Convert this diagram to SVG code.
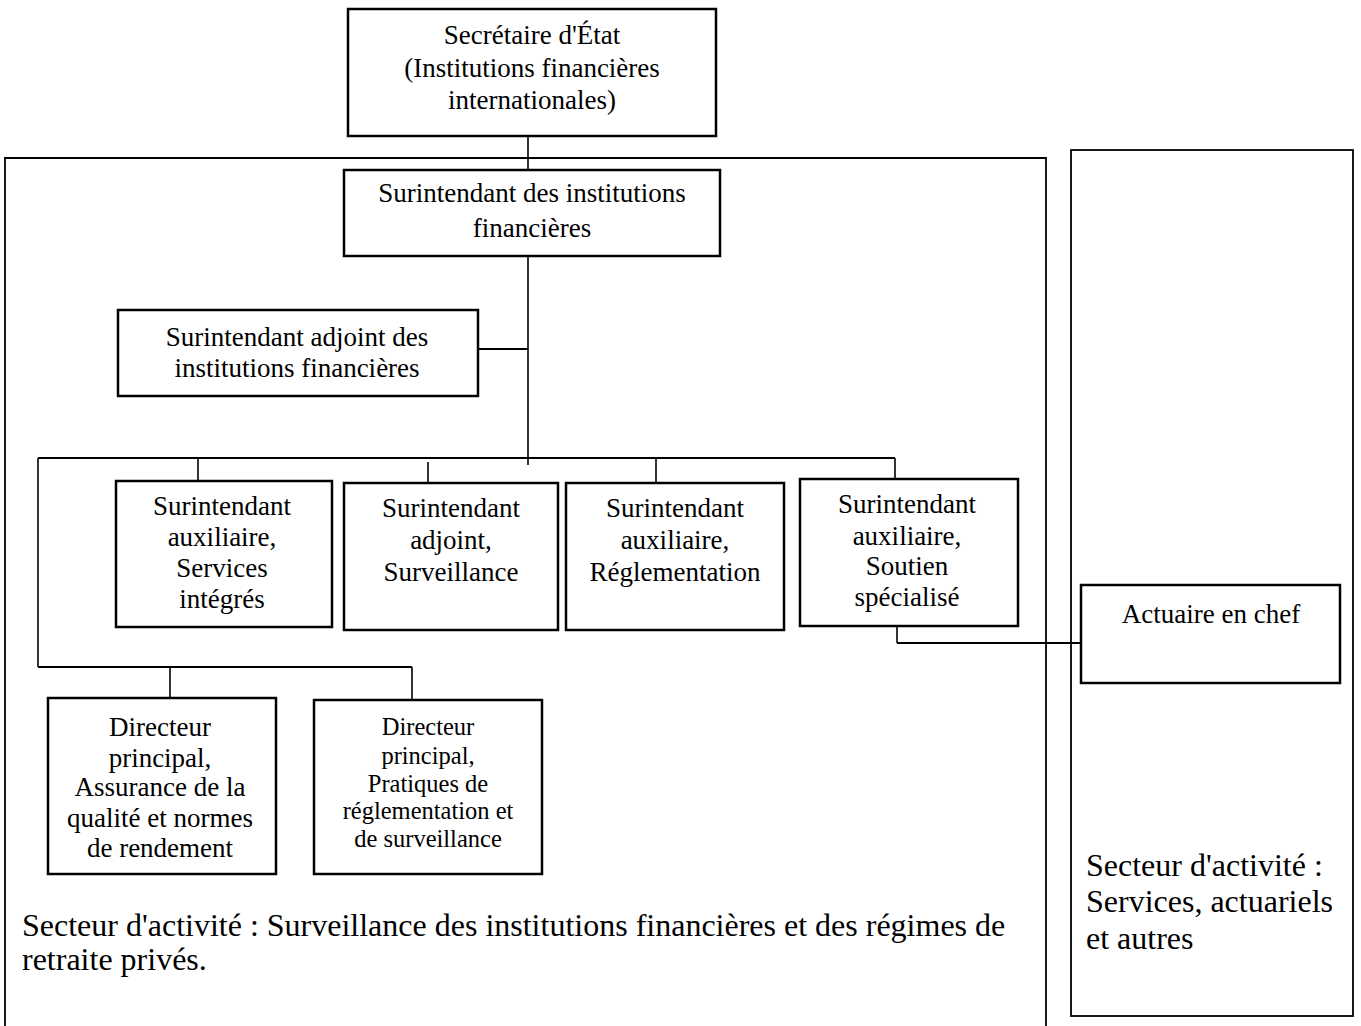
<svg xmlns="http://www.w3.org/2000/svg" width="1361" height="1026" viewBox="0 0 1361 1026">
<style>
.box{fill:#fff;stroke:#000;stroke-width:2.5}
.frame{fill:none;stroke:#000;stroke-width:1.8}
.ln{fill:none;stroke:#000;stroke-width:1.6}
.bus{fill:none;stroke:#000;stroke-width:2.2}
text{font-family:"Liberation Serif","Times New Roman",serif;fill:#000;text-anchor:middle;font-size:27px}
.sm{font-size:24.5px}
.big{font-size:32px;text-anchor:start}
</style>
<rect x="0" y="0" width="1361" height="1026" fill="#fff"/>
<g id="frames">
<polyline class="frame" points="5,1026 5,158 1046,158 1046,1026"/>
<rect class="frame" x="1071" y="150" width="282" height="866"/>
</g>
<g id="connectors">
<line class="ln" x1="528" y1="136" x2="528" y2="171"/>
<line class="ln" x1="528" y1="256" x2="528" y2="465"/>
<line class="bus" x1="478" y1="349" x2="528" y2="349"/>
<line class="bus" x1="38" y1="458" x2="895" y2="458"/>
<line class="ln" x1="198" y1="458" x2="198" y2="481"/>
<line class="ln" x1="428" y1="462" x2="428" y2="483"/>
<line class="ln" x1="656" y1="458" x2="656" y2="483"/>
<line class="ln" x1="895" y1="458" x2="895" y2="479"/>
<line class="ln" x1="897" y1="626" x2="897" y2="643"/>
<line class="bus" x1="897" y1="643" x2="1081" y2="643"/>
<line class="ln" x1="38" y1="458" x2="38" y2="667"/>
<line class="bus" x1="38" y1="667" x2="412" y2="667"/>
<line class="ln" x1="170" y1="667" x2="170" y2="698"/>
<line class="ln" x1="412" y1="667" x2="412" y2="700"/>
</g>
<g id="secretaire">
<rect class="box" x="348" y="9" width="368" height="127"/>
<text x="532" y="44">Secrétaire d'État</text>
<text x="532" y="77">(Institutions financières</text>
<text x="532" y="109">internationales)</text>
</g>
<g id="surintendant">
<rect class="box" x="344" y="170" width="376" height="86"/>
<text x="532" y="202">Surintendant des institutions</text>
<text x="532" y="237">financières</text>
</g>
<g id="adjoint-inst">
<rect class="box" x="118" y="310" width="360" height="86"/>
<text x="297" y="346">Surintendant adjoint des</text>
<text x="297" y="377">institutions financières</text>
</g>
<g id="aux-services">
<rect class="box" x="116" y="481" width="216" height="146"/>
<text x="222" y="515">Surintendant</text>
<text x="222" y="546">auxiliaire,</text>
<text x="222" y="577">Services</text>
<text x="222" y="608">intégrés</text>
</g>
<g id="adjoint-surv">
<rect class="box" x="344" y="483" width="214" height="147"/>
<text x="451" y="517">Surintendant</text>
<text x="451" y="549">adjoint,</text>
<text x="451" y="581">Surveillance</text>
</g>
<g id="aux-regl">
<rect class="box" x="566" y="483" width="218" height="147"/>
<text x="675" y="517">Surintendant</text>
<text x="675" y="549">auxiliaire,</text>
<text x="675" y="581">Réglementation</text>
</g>
<g id="aux-soutien">
<rect class="box" x="800" y="479" width="218" height="147"/>
<text x="907" y="513">Surintendant</text>
<text x="907" y="545">auxiliaire,</text>
<text x="907" y="575">Soutien</text>
<text x="907" y="606">spécialisé</text>
</g>
<g id="actuaire">
<rect class="box" x="1081" y="585" width="259" height="98"/>
<text x="1211" y="623">Actuaire en chef</text>
</g>
<g id="dir-qualite">
<rect class="box" x="48" y="698" width="228" height="176"/>
<text x="160" y="736">Directeur</text>
<text x="160" y="767">principal,</text>
<text x="160" y="796">Assurance de la</text>
<text x="160" y="827">qualité et normes</text>
<text x="160" y="857">de rendement</text>
</g>
<g id="dir-pratiques">
<rect class="box" x="314" y="700" width="228" height="174"/>
<text class="sm" x="428" y="735">Directeur</text>
<text class="sm" x="428" y="764">principal,</text>
<text class="sm" x="428" y="792">Pratiques de</text>
<text class="sm" x="428" y="819">réglementation et</text>
<text class="sm" x="428" y="847">de surveillance</text>
</g>
<g id="labels">
<text class="big" x="22" y="936">Secteur d'activité : Surveillance des institutions financières et des régimes de</text>
<text class="big" x="22" y="970">retraite privés.</text>
<text class="big" x="1086" y="876">Secteur d'activité :</text>
<text class="big" x="1086" y="912">Services, actuariels</text>
<text class="big" x="1086" y="949">et autres</text>
</g>
</svg>
